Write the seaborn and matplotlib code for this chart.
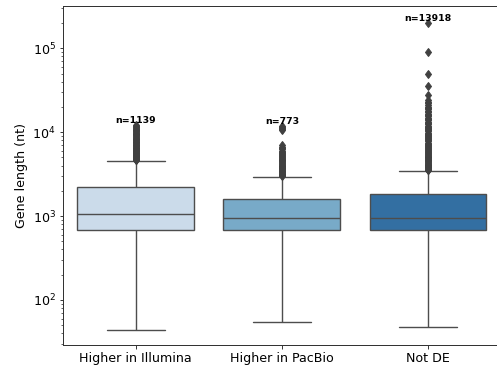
import numpy as np
import pandas as pd
import matplotlib
matplotlib.use("Agg")
import matplotlib.pyplot as plt
import seaborn as sns

# ---- data ----
categories = ["Higher in Illumina", "Higher in PacBio", "Not DE"]
n_counts = [1139, 773, 13918]
whisker_low = [44, 54, 47]
q1 = [690, 687, 681]
median = [1056, 938, 938]
q3 = [2230, 1590, 1810]
whisker_high = [4500, 2940, 3460]

outliers_illumina = [4600, 4700, 4780, 4850, 4930, 5000, 5080, 5150, 5230, 5300,
                     5400, 5500, 5600, 5700, 5800, 5900, 6000, 6100, 6200, 6300,
                     6400, 6500, 6650, 6800, 6950, 7100, 7250, 7400, 7550, 7700,
                     7850, 8000, 8200, 8400, 8600, 8800, 9000, 9200, 9400, 9600,
                     9800, 10000, 10250, 10500, 10750, 11000, 11300, 11600,
                     11850, 12100]
outliers_pacbio = [3000, 3050, 3100, 3150, 3200, 3250, 3320, 3400, 3470, 3550,
                   3620, 3700, 3770, 3850, 3920, 4000, 4100, 4200, 4300, 4400,
                   4500, 4600, 4700, 4800, 4900, 5000, 5150, 5300, 5450, 5600,
                   5800, 6000, 6250, 6500, 6750, 7000,
                   10500, 10850, 11200, 11600, 12000]
outliers_notde = [3520, 3580, 3650, 3720, 3800, 3870, 3950, 4030, 4100, 4200,
                  4300, 4400, 4500, 4600, 4700, 4800, 4900, 5000, 5100, 5250,
                  5400, 5550, 5700, 5850, 6000, 6150, 6300, 6500, 6700, 6900,
                  7100, 7300, 7500, 7750, 8000, 8250, 8500, 8750, 9000, 9300,
                  9600, 9900, 10200, 10550, 10900, 11250, 11600, 12000, 12400,
                  12850, 13300, 13800, 14300, 14850, 15400, 16000, 16600,
                  17300, 18000, 18750, 19500, 20200, 21000, 22000, 23000,
                  24500, 28000, 36000, 49000, 90000, 200000]
outliers = [outliers_illumina, outliers_pacbio, outliers_notde]

# Build a long table whose box statistics reproduce the summary values above
rows = []
for i, cat in enumerate(categories):
    k = len(outliers[i]) + 5
    vals = ([whisker_low[i]] + [q1[i]] * k + [median[i]] * k + [q3[i]] * k
            + [whisker_high[i]] + list(outliers[i]))
    rows += [(cat, v) for v in vals]
df = pd.DataFrame(rows, columns=["group", "length"])

# ---- figure ----
sns.set_style("ticks")
plt.rcParams["font.family"] = ["DejaVu Sans"]

W, H = 497, 371
fig = plt.figure(figsize=(W / 72, H / 72), dpi=72)
ax = fig.add_axes([62.7 / W, (H - 345) / H, (501 - 62.7) / W, (345 - 6) / H])

sns.boxplot(data=df, x="group", y="length", order=categories, hue="group",
            hue_order=categories, palette="Blues", legend=False, width=0.8,
            saturation=0.75, linewidth=1.4, linecolor="0.3",
            flierprops=dict(marker="d", markersize=6,
                            markerfacecolor="0.25", markeredgecolor="0.25"),
            ax=ax)
ax.set_yscale("log")
ax.set_ylim(29, 3.2e5)
ax.set_xlim(-0.5, 2.5)

for i, cat in enumerate(categories):
    top = max(outliers[i])
    ax.text(i, top, f"n={n_counts[i]}", ha="center", va="bottom",
            fontsize=9.4, fontweight="bold", color="black")

ax.set_xlabel("")
ax.set_ylabel("Gene length (nt)", fontsize=12.6, color="black")
ax.tick_params(axis="both", which="major", labelsize=12.6, length=3.5,
               width=0.9, colors="0.15", labelcolor="black")
ax.tick_params(axis="y", which="minor", length=2, width=0.7, colors="0.15")
for s in ax.spines.values():
    s.set_color("0.2")
    s.set_linewidth(1.0)
ax.spines["right"].set_visible(False)

fig.savefig("out.png", dpi=72)
